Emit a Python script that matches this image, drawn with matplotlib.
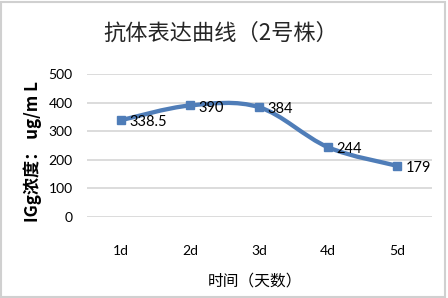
import numpy as np
import matplotlib
matplotlib.use("Agg")
import matplotlib.pyplot as plt
from matplotlib.path import Path
from matplotlib.patches import PathPatch, Rectangle

plt.rcParams['font.family'] = ['Noto Sans CJK SC', 'DejaVu Sans']

categories = ["1d", "2d", "3d", "4d", "5d"]
values = [338.5, 390, 384, 244, 179]
value_labels = ["338.5", "390", "384", "244", "179"]
yticks = [0, 100, 200, 300, 400, 500]

title = "抗体表达曲线（2号株）"
xlabel = "时间（天数）"
ylabel = "IGg浓度： ug/m L"

color = "#4F7DB8"
W, H = 448, 298
fig = plt.figure(figsize=(W / 100, H / 100), dpi=100)
ax = fig.add_axes([86.5 / W, 1 - 217 / H, 345 / W, 143 / H])

x = np.arange(len(values))
ax.set_xlim(-0.5, len(values) - 0.5)
ax.set_ylim(0, 500)

# smooth curve (Catmull-Rom style bezier, computed in scaled space)
sx, sy = 69.0, 143.0 / 500.0
P = np.column_stack([x * sx, np.array(values) * sy])
verts = [tuple(P[0])]
codes = [Path.MOVETO]
n = len(P)
for i in range(n - 1):
    p0 = P[i - 1] if i > 0 else P[i]
    p1 = P[i]
    p2 = P[i + 1]
    p3 = P[i + 2] if i + 2 < n else P[i + 1]
    c1 = p1 + (p2 - p0) / 6.0
    c2 = p2 - (p3 - p1) / 6.0
    verts += [tuple(c1), tuple(c2), tuple(p2)]
    codes += [Path.CURVE4] * 3
verts = np.array(verts)
verts[:, 0] /= sx
verts[:, 1] /= sy
ax.add_patch(PathPatch(Path(verts, codes), facecolor="none", edgecolor=color,
                       lw=3.1, capstyle="round", zorder=3))
ax.plot(x, values, linestyle="none", marker="s", markersize=6.3, color=color, zorder=4)

for xi, v, lab in zip(x, values, value_labels):
    ax.annotate(lab, (xi, v), xytext=(6, -1.5), textcoords="offset points",
                ha="left", va="center", fontsize=10.5, family=["Lato", "DejaVu Sans"],
                color="#000000", zorder=5)

ax.set_yticks(yticks)
ax.set_xticks(x)
ax.set_xticklabels(categories, family=["Lato", "DejaVu Sans"], fontsize=10)
ax.set_yticklabels([str(t) for t in yticks], family=["Lato", "DejaVu Sans"], fontsize=10)
ax.tick_params(axis="x", length=0, pad=20)
ax.tick_params(axis="y", length=0, pad=10)
ax.grid(axis="y", color="#D9D9D9", lw=1.3)
ax.set_axisbelow(True)
for s in ax.spines.values():
    s.set_visible(False)

fig.text(221 / W, 1 - 33 / H, title, ha="center", va="center", fontsize=16, color="#262626")
fig.text(255 / W, 1 - 281 / H, xlabel, ha="center", va="center", fontsize=11.3, color="#000000")
fig.text(33 / W, 1 - 152 / H, ylabel, ha="center", va="center", rotation=90,
         fontsize=12.3, fontweight="bold", color="#000000")

fig.patches.append(Rectangle((1 / W, 1 / H), 444 / W, 295 / H, transform=fig.transFigure,
                             fill=False, edgecolor="#D0D0D0", lw=1.5))

fig.savefig("out.png", dpi=100)
